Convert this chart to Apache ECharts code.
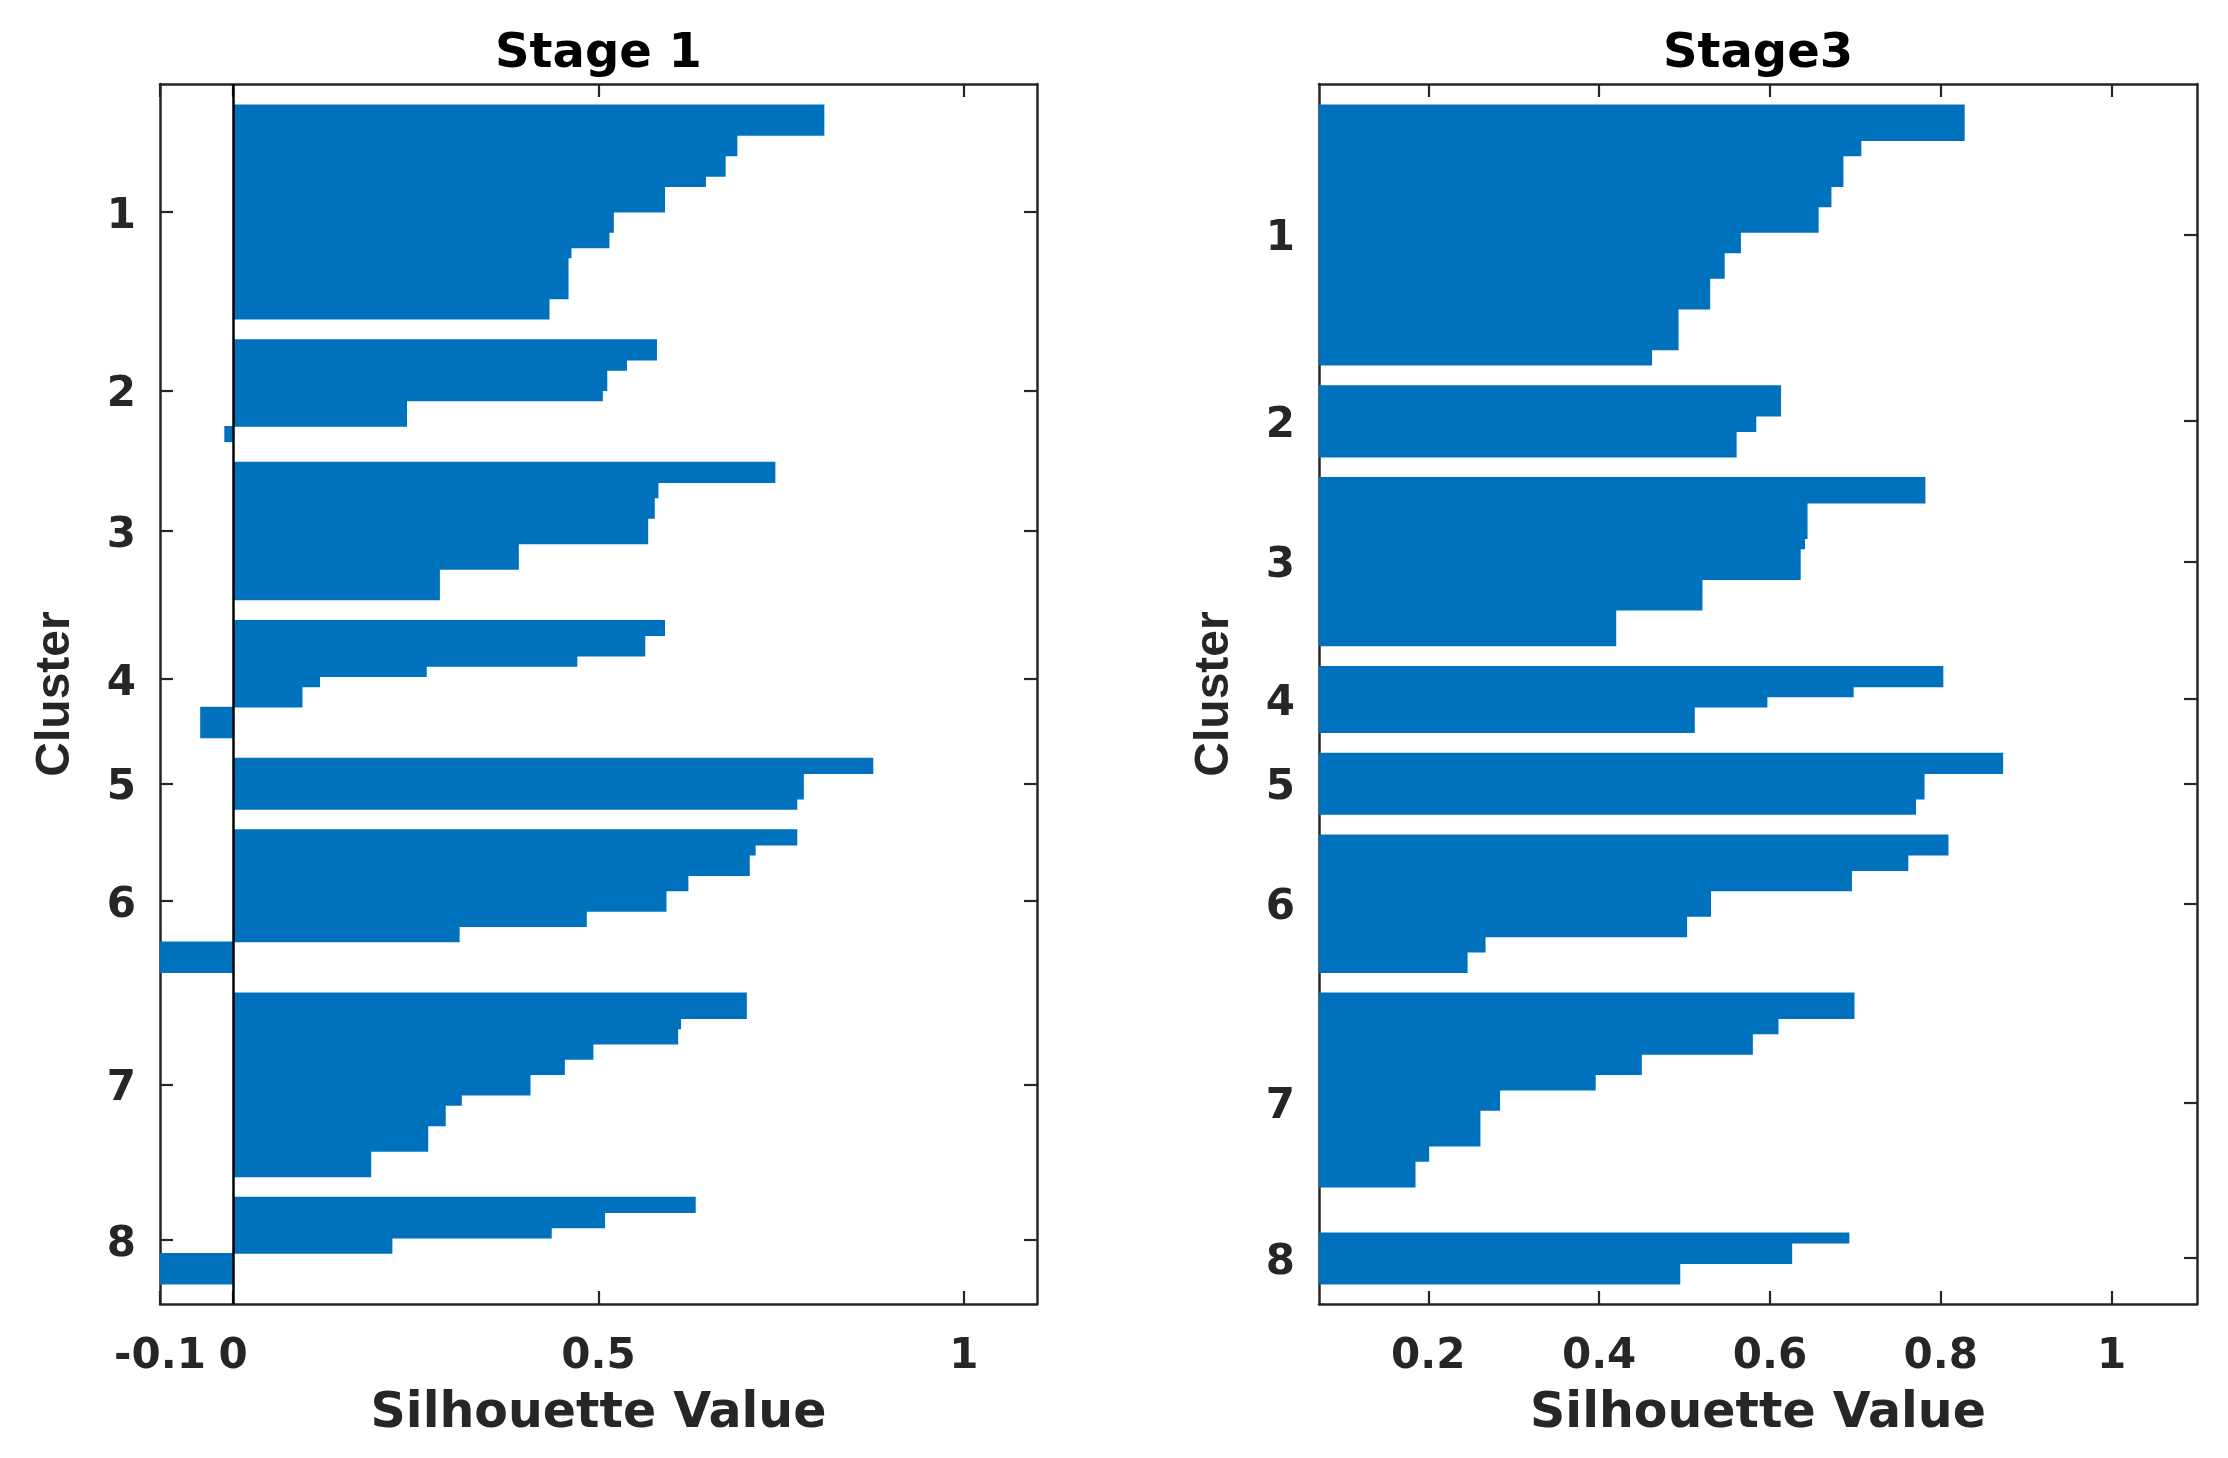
<!DOCTYPE html>
<html>
<head>
<meta charset="utf-8">
<script src="https://cdn.jsdelivr.net/npm/echarts@6/dist/echarts.min.js"></script>
<style>
html,body{margin:0;padding:0;background:#ffffff;}
#chart{width:2228px;height:1458px;}
</style>
</head>
<body>
<div id="chart"></div>
<script>
// ---- data ----
const clusterLabels = ['1', '2', '3', '4', '5', '6', '7', '8'];
const gapRows = 4; // blank rows between clusters (silhouette plot spacing)

// Stage 1: sorted silhouette values per cluster (value of each step) and how many points share it
const stage1Values = [
  [0.809, 0.690, 0.674, 0.647, 0.591, 0.521, 0.515, 0.463, 0.459, 0.433],
  [0.580, 0.539, 0.512, 0.506, 0.238, -0.012],
  [0.742, 0.582, 0.577, 0.568, 0.391, 0.283],
  [0.591, 0.564, 0.471, 0.265, 0.119, 0.095, -0.045],
  [0.876, 0.781, 0.772],
  [0.772, 0.715, 0.707, 0.623, 0.593, 0.484, 0.310, -0.100],
  [0.703, 0.613, 0.609, 0.493, 0.454, 0.407, 0.313, 0.291, 0.267, 0.189],
  [0.633, 0.509, 0.436, 0.218, -0.100]
];
const stage1Counts = [
  [6, 4, 4, 2, 5, 4, 3, 2, 8, 4],
  [4, 2, 4, 2, 5, 3],
  [4, 3, 4, 5, 5, 6],
  [3, 4, 2, 2, 2, 4, 6],
  [3, 5, 2],
  [3, 2, 4, 3, 4, 3, 3, 6],
  [5, 2, 3, 3, 3, 4, 2, 4, 5, 5],
  [3, 3, 2, 3, 6]
];

// Stage 3
const stage3Values = [
  [0.828, 0.707, 0.686, 0.672, 0.657, 0.566, 0.547, 0.530, 0.493, 0.462],
  [0.613, 0.584, 0.561],
  [0.782, 0.644, 0.641, 0.636, 0.521, 0.420],
  [0.803, 0.698, 0.597, 0.512],
  [0.873, 0.781, 0.771],
  [0.809, 0.762, 0.696, 0.531, 0.503, 0.267, 0.246],
  [0.699, 0.610, 0.580, 0.450, 0.396, 0.284, 0.261, 0.201, 0.185, 0.050],
  [0.693, 0.626, 0.495]
];
const stage3Counts = [
  [7, 3, 6, 4, 5, 4, 5, 6, 8, 3],
  [6, 3, 5],
  [5, 7, 2, 6, 6, 7],
  [4, 2, 2, 5],
  [4, 5, 3],
  [4, 3, 4, 5, 4, 3, 4],
  [5, 3, 4, 4, 3, 4, 7, 3, 5, 5],
  [2, 4, 4]
];

const panelTitles = ['Stage 1', 'Stage3'];
const stage1XRange = [-0.1, 1.1];
const stage3XRange = [0.072, 1.1];
const stage1XTicks = [-0.1, 0, 0.5, 1];
const stage3XTicks = [0.2, 0.4, 0.6, 0.8, 1];
const xAxisTitle = 'Silhouette Value';
const yAxisTitle = 'Cluster';

// ---- styling ----
const barColor = '#0072BD';
const axisColor = '#262626';
const tickFont = { fontFamily: 'DejaVu Sans', fontWeight: 'bold', fontSize: 42, color: axisColor };
const nameFont = { fontFamily: 'DejaVu Sans', fontWeight: 'bold', fontSize: 49, color: axisColor };
const yNameFont = { fontFamily: "'Liberation Sans', Arial, sans-serif", fontWeight: 'bold', fontSize: 48, color: axisColor };
const grids = [
  { left: 160, top: 84, width: 877, height: 1220 },
  { left: 1319, top: 84, width: 878, height: 1220 }
];

function buildPanel(values, counts) {
  const steps = [];
  const centers = [];
  let row = gapRows + 1;
  values.forEach((vals, c) => {
    const first = row;
    vals.forEach((v, i) => {
      steps.push([row, row + counts[c][i] - 1, v, c]);
      row += counts[c][i];
    });
    centers.push((first + row - 1) / 2);
    row += gapRows;
  });
  return { steps, centers, total: row - 1 };
}

const panels = [
  { ...buildPanel(stage1Values, stage1Counts), range: stage1XRange, ticks: stage1XTicks, title: panelTitles[0] },
  { ...buildPanel(stage3Values, stage3Counts), range: stage3XRange, ticks: stage3XTicks, title: panelTitles[1] }
];

function fmtX(v) { return String(parseFloat(Number(v).toFixed(3))); }

const option = {
  backgroundColor: '#ffffff',
  animation: false,
  title: [],
  grid: grids,
  xAxis: [],
  yAxis: [],
  series: []
};

panels.forEach((p, g) => {
  const gr = grids[g];
  option.title.push({
    text: p.title,
    left: gr.left + gr.width / 2,
    top: 31,
    textAlign: 'center',
    padding: 0,
    textStyle: { fontFamily: 'DejaVu Sans', fontWeight: 'bold', fontSize: 48, color: '#000000' }
  });
  const lineStyle = { color: axisColor, width: 2.5 };
  const tickStyle = { color: axisColor, width: 2.2 };
  // bottom x axis
  option.xAxis.push({
    gridIndex: g, type: 'value', position: 'bottom', min: p.range[0], max: p.range[1],
    axisLine: { show: true, onZero: false, lineStyle },
    axisTick: { show: true, inside: true, length: 13, customValues: p.ticks, lineStyle: tickStyle },
    axisLabel: { show: true, customValues: p.ticks, formatter: fmtX, margin: 32, ...tickFont },
    splitLine: { show: false },
    name: xAxisTitle, nameLocation: 'middle', nameGap: 86, nameTextStyle: nameFont
  });
  // top mirror x axis
  option.xAxis.push({
    gridIndex: g, type: 'value', position: 'top', min: p.range[0], max: p.range[1],
    axisLine: { show: true, onZero: false, lineStyle },
    axisTick: { show: true, inside: true, length: 13, customValues: p.ticks, lineStyle: tickStyle },
    axisLabel: { show: false },
    splitLine: { show: false }
  });
  const centers = p.centers;
  const fmtY = (v) => {
    const i = centers.findIndex(c => Math.abs(c - v) < 1e-6);
    return i >= 0 ? '{t|' + clusterLabels[i] + '}' : '';
  };
  // left y axis
  option.yAxis.push({
    gridIndex: g, type: 'value', position: 'left', inverse: true, min: 0.5, max: p.total + 0.5,
    axisLine: { show: true, onZero: false, lineStyle },
    axisTick: { show: true, inside: true, length: 13, customValues: centers, lineStyle: tickStyle },
    axisLabel: {
      show: true, customValues: centers, formatter: fmtY, margin: 24, ...tickFont,
      rich: { t: { ...tickFont, padding: [10, 0, 0, 0] } }
    },
    splitLine: { show: false },
    name: yAxisTitle, nameLocation: 'middle', nameRotate: 90, nameGap: 80, nameTextStyle: yNameFont
  });
  // right mirror y axis
  option.yAxis.push({
    gridIndex: g, type: 'value', position: 'right', inverse: true, min: 0.5, max: p.total + 0.5,
    axisLine: { show: true, onZero: false, lineStyle },
    axisTick: { show: true, inside: true, length: 13, customValues: centers, lineStyle: tickStyle },
    axisLabel: { show: false },
    splitLine: { show: false }
  });
  const baselineInside = 0 >= p.range[0] && 0 <= p.range[1];
  option.series.push({
    type: 'custom',
    name: p.title,
    xAxisIndex: g * 2,
    yAxisIndex: g * 2,
    dimensions: ['rowStart', 'rowEnd', 'value', 'cluster'],
    encode: { x: 'value', y: ['rowStart', 'rowEnd'] },
    clip: true,
    data: p.steps,
    renderItem: function (params, api) {
      const r0 = api.value(0), r1 = api.value(1), v = api.value(2);
      const a = api.coord([0, r0 - 0.5]);
      const b = api.coord([v, r1 + 0.5]);
      const cs = params.coordSys;
      const rect = echarts.graphic.clipRectByRect({
        x: Math.min(a[0], b[0]),
        y: Math.min(a[1], b[1]),
        width: Math.abs(b[0] - a[0]),
        height: Math.abs(b[1] - a[1]) + 0.8
      }, { x: cs.x, y: cs.y, width: cs.width, height: cs.height });
      return rect && { type: 'rect', shape: rect, style: { fill: barColor } };
    },
    markLine: baselineInside ? {
      silent: true,
      symbol: ['none', 'none'],
      label: { show: false },
      lineStyle: { color: '#000000', width: 2.5, type: 'solid' },
      data: [{ xAxis: 0 }]
    } : undefined,
    z: 2
  });
});

const chart = echarts.init(document.getElementById('chart'));
chart.setOption(option);
</script>
</body>
</html>
